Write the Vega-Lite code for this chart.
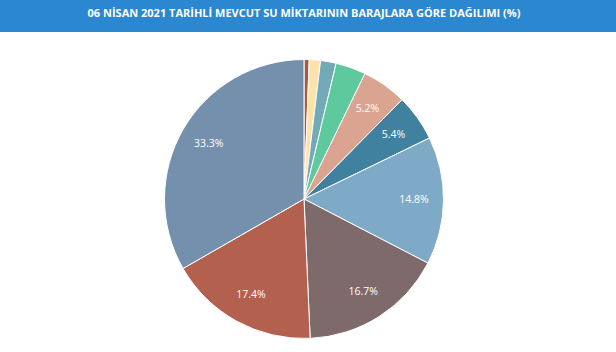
{
  "$schema": "https://vega.github.io/schema/vega-lite/v6.json",
  "padding": 0,
  "autosize": "pad",
  "spacing": 0,
  "background": "white",
  "config": {"view": {"stroke": null}},
  "vconcat": [
    {
      "width": 616,
      "height": 32,
      "view": {"fill": "#2b87cf", "stroke": null},
      "data": {"values": [{"title": "06 NİSAN 2021 TARİHLİ MEVCUT SU MİKTARININ BARAJLARA GÖRE DAĞILIMI (%)"}]},
      "mark": {"type": "text", "color": "white", "font": "Open Sans", "fontSize": 11, "fontWeight": "bold", "align": "center", "baseline": "middle", "dy": -2, "dx": -4},
      "encoding": {"text": {"field": "title"}}
    },
    {
      "width": 608,
      "height": 334,
      "data": {"values": [
        {"baraj": "A", "value": 0.6, "ord": 1, "label": ""},
        {"baraj": "B", "value": 1.3, "ord": 2, "label": ""},
        {"baraj": "C", "value": 1.8, "ord": 3, "label": ""},
        {"baraj": "D", "value": 3.5, "ord": 4, "label": ""},
        {"baraj": "E", "value": 5.2, "ord": 5, "label": "5.2%"},
        {"baraj": "F", "value": 5.4, "ord": 6, "label": "5.4%"},
        {"baraj": "G", "value": 14.8, "ord": 7, "label": "14.8%"},
        {"baraj": "H", "value": 16.7, "ord": 8, "label": "16.7%"},
        {"baraj": "I", "value": 17.4, "ord": 9, "label": "17.4%"},
        {"baraj": "J", "value": 33.3, "ord": 10, "label": "33.3%"}
      ]},
      "encoding": {
        "theta": {"field": "value", "type": "quantitative", "stack": true},
        "order": {"field": "ord", "type": "quantitative"}
      },
      "layer": [
        {
          "mark": {"type": "arc", "outerRadius": 139.5, "stroke": "white", "strokeWidth": 1},
          "encoding": {
            "color": {
              "field": "baraj", "type": "nominal", "legend": null,
              "scale": {
                "domain": ["A","B","C","D","E","F","G","H","I","J"],
                "range": ["#a85a3e","#fde3aa","#73aab8","#5ec99d","#daa491","#3f819f","#7eaac8","#7e6a6a","#b4604e","#7590ad"]
              }
            }
          }
        },
        {
          "mark": {"type": "text", "radius": 110, "color": "white", "font": "Open Sans", "fontSize": 10.5},
          "encoding": {"text": {"field": "label", "type": "nominal"}}
        }
      ]
    }
  ]
}
